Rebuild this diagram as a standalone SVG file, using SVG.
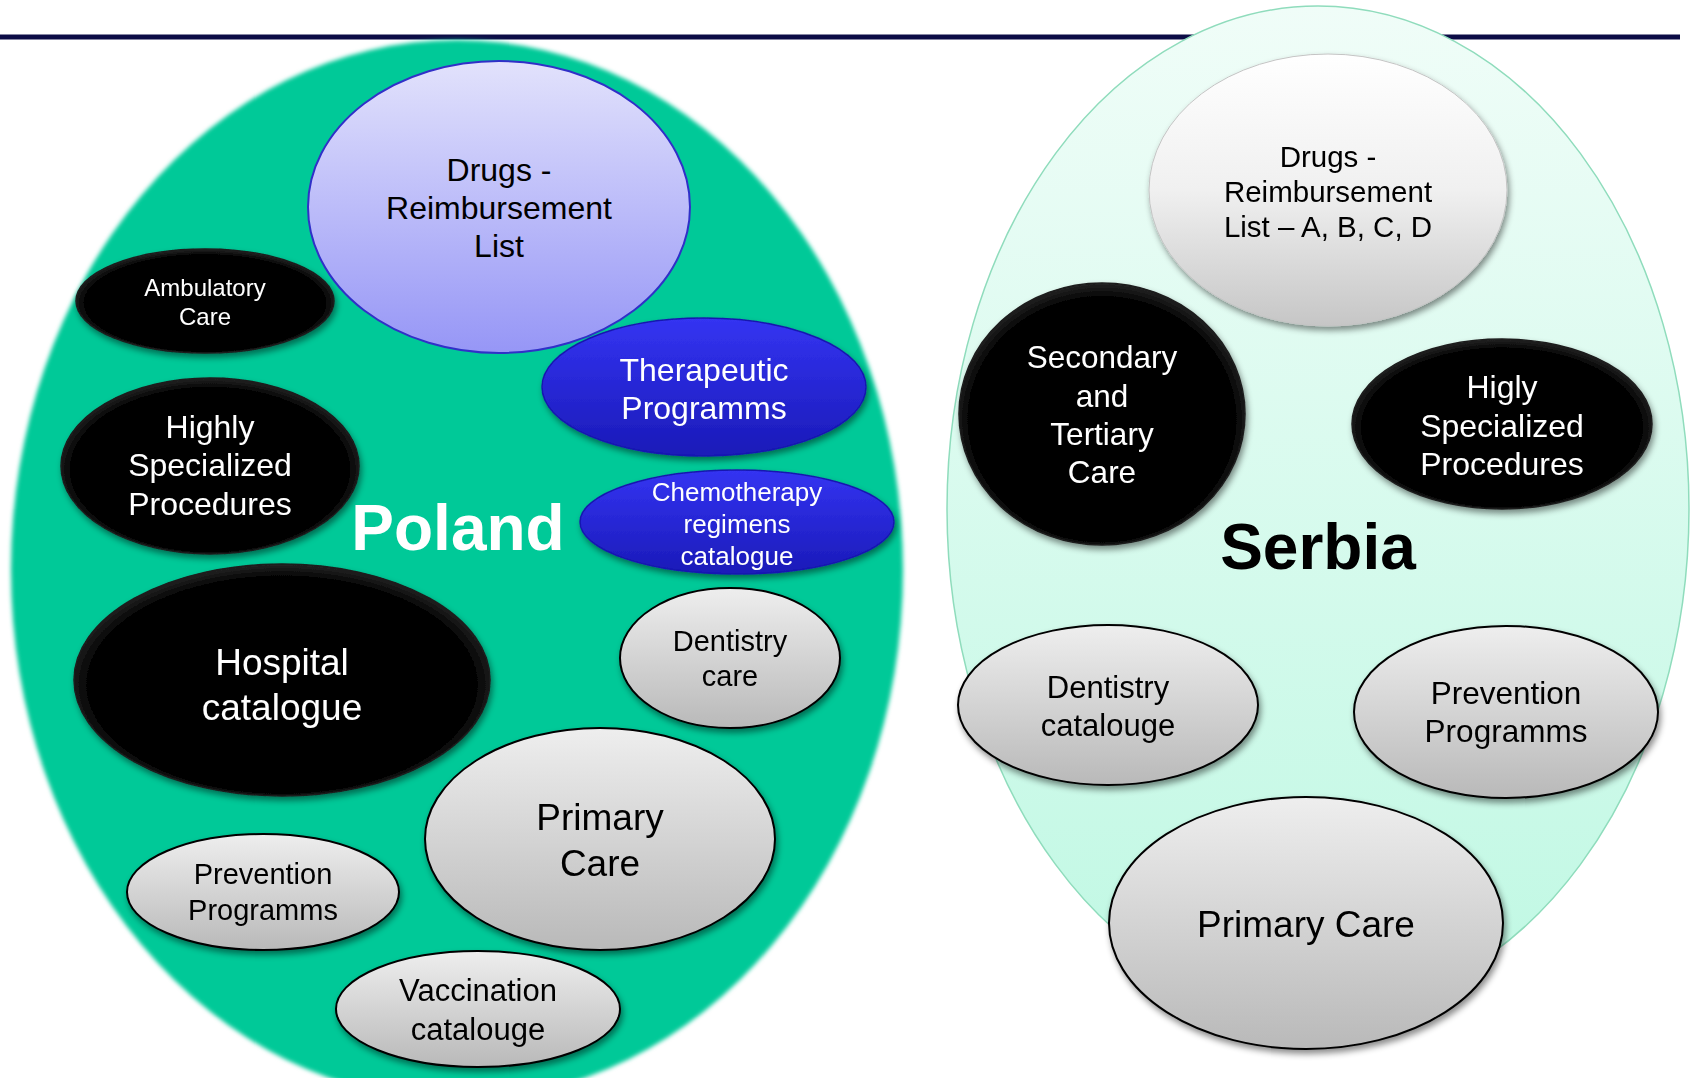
<svg xmlns="http://www.w3.org/2000/svg" width="1697" height="1078" viewBox="0 0 1697 1078">
<style>
text{font-family:"Liberation Sans",Arial,sans-serif;text-anchor:middle;dominant-baseline:central}
.w{fill:#fff}.k{fill:#000}
.gray{fill:url(#gGray);stroke:#000;stroke-width:2}
.blk{fill:url(#gBlack);stroke:#1c1c1c;stroke-width:1.5}
.blu{fill:url(#gBlue);stroke:#1818b0;stroke-width:1.5}
.sh{filter:url(#shadow)}
</style>
<defs>
<linearGradient id="gGray" x1="0" y1="0" x2="0" y2="1"><stop offset="0" stop-color="#eeeeee"/><stop offset="1" stop-color="#b9b9b9"/></linearGradient>
<linearGradient id="gWhite" x1="0" y1="0" x2="0" y2="1"><stop offset="0" stop-color="#ffffff"/><stop offset="0.5" stop-color="#f0f0f0"/><stop offset="1" stop-color="#c6c6c6"/></linearGradient>
<radialGradient id="gBlack" cx="0.5" cy="0.52" r="0.52"><stop offset="0.9" stop-color="#050505"/><stop offset="1" stop-color="#242424"/></radialGradient>
<linearGradient id="gBlue" x1="0" y1="0" x2="0" y2="1"><stop offset="0" stop-color="#3434f2"/><stop offset="1" stop-color="#1a1ab8"/></linearGradient>
<linearGradient id="gLav" x1="0" y1="0" x2="0" y2="1"><stop offset="0" stop-color="#e2e2fc"/><stop offset="1" stop-color="#9696f6"/></linearGradient>
<linearGradient id="gMint" x1="0" y1="0" x2="0" y2="1"><stop offset="0" stop-color="#f0fdf8"/><stop offset="1" stop-color="#bff8e3"/></linearGradient>
<filter id="shadow" x="-20%" y="-20%" width="140%" height="140%"><feDropShadow dx="2" dy="4" stdDeviation="3" flood-color="#000" flood-opacity="0.45"/></filter>
<filter id="soft" x="-5%" y="-5%" width="110%" height="110%"><feGaussianBlur stdDeviation="2"/></filter>
</defs>
<rect width="1697" height="1078" fill="#fff"/>
<line x1="0" y1="37" x2="1680" y2="37" stroke="#0c0c46" stroke-width="5"/>
<g id="poland-area"><ellipse cx="457" cy="570" rx="446" ry="530" fill="#00c998" filter="url(#soft)"/></g>
<g id="serbia-area"><ellipse cx="1318" cy="509" rx="371" ry="503" fill="url(#gMint)" stroke="#8fdcbc" stroke-width="1.5"/></g>
<g id="connectors"></g>
<g id="pl-drugs"><ellipse cx="499" cy="207" rx="191" ry="146" fill="url(#gLav)" stroke="#3030c8" stroke-width="2"/>
<text class="k" font-size="32"><tspan x="499" y="170">Drugs -</tspan><tspan x="499" y="208">Reimbursement</tspan><tspan x="499" y="246">List</tspan></text></g>
<g id="pl-ambulatory" class="sh"><ellipse class="blk" cx="205" cy="301" rx="129" ry="52"/>
<text class="w" font-size="24"><tspan x="205" y="287">Ambulatory</tspan><tspan x="205" y="316">Care</tspan></text></g>
<g id="pl-highly" class="sh"><ellipse class="blk" cx="210" cy="466" rx="149" ry="88"/>
<text class="w" font-size="32"><tspan x="210" y="427">Highly</tspan><tspan x="210" y="465">Specialized</tspan><tspan x="210" y="504">Procedures</tspan></text></g>
<g id="pl-therapeutic" class="sh"><ellipse class="blu" cx="704" cy="387" rx="162" ry="69"/>
<text class="w" font-size="32"><tspan x="704" y="370">Therapeutic</tspan><tspan x="704" y="408">Programms</tspan></text></g>
<g id="pl-chemo" class="sh"><ellipse class="blu" cx="737" cy="522" rx="157" ry="52"/>
<text class="w" font-size="26"><tspan x="737" y="492">Chemotherapy</tspan><tspan x="737" y="524">regimens</tspan><tspan x="737" y="556">catalogue</tspan></text></g>
<g id="pl-label"><text x="458" y="528" class="w" font-size="64" font-weight="bold">Poland</text></g>
<g id="pl-hospital" class="sh"><ellipse class="blk" cx="282" cy="680" rx="208" ry="116"/>
<text class="w" font-size="37"><tspan x="282" y="662">Hospital</tspan><tspan x="282" y="707">catalogue</tspan></text></g>
<g id="pl-dentistry" class="sh"><ellipse class="gray" cx="730" cy="658" rx="110" ry="70"/>
<text class="k" font-size="29"><tspan x="730" y="641">Dentistry</tspan><tspan x="730" y="676">care</tspan></text></g>
<g id="pl-primary" class="sh"><ellipse class="gray" cx="600" cy="839" rx="175" ry="111"/>
<text class="k" font-size="37"><tspan x="600" y="817">Primary</tspan><tspan x="600" y="863">Care</tspan></text></g>
<g id="pl-prevention" class="sh"><ellipse class="gray" cx="263" cy="892" rx="136" ry="58"/>
<text class="k" font-size="29"><tspan x="263" y="874">Prevention</tspan><tspan x="263" y="910">Programms</tspan></text></g>
<g id="pl-vaccination" class="sh"><ellipse class="gray" cx="478" cy="1009" rx="142" ry="58"/>
<text class="k" font-size="31"><tspan x="478" y="990">Vaccination</tspan><tspan x="478" y="1029">catalouge</tspan></text></g>
<g id="rs-drugs" class="sh"><ellipse cx="1328" cy="190" rx="179" ry="136" fill="url(#gWhite)" stroke="#c4c4c4" stroke-width="1"/>
<text class="k" font-size="29.5"><tspan x="1328" y="156">Drugs -</tspan><tspan x="1328" y="191">Reimbursement</tspan><tspan x="1328" y="226">List – A, B, C, D</tspan></text></g>
<g id="rs-secondary" class="sh"><ellipse class="blk" cx="1102" cy="414" rx="143" ry="131"/>
<text class="w" font-size="31.5"><tspan x="1102" y="357">Secondary</tspan><tspan x="1102" y="396">and</tspan><tspan x="1102" y="434">Tertiary</tspan><tspan x="1102" y="472">Care</tspan></text></g>
<g id="rs-higly" class="sh"><ellipse class="blk" cx="1502" cy="424" rx="150" ry="85"/>
<text class="w" font-size="32"><tspan x="1502" y="387">Higly</tspan><tspan x="1502" y="426">Specialized</tspan><tspan x="1502" y="464">Procedures</tspan></text></g>
<g id="rs-label"><text x="1318" y="547" class="k" font-size="64" font-weight="bold">Serbia</text></g>
<g id="rs-dentistry" class="sh"><ellipse class="gray" cx="1108" cy="705" rx="150" ry="80"/>
<text class="k" font-size="31"><tspan x="1108" y="687">Dentistry</tspan><tspan x="1108" y="725">catalouge</tspan></text></g>
<g id="rs-prevention" class="sh"><ellipse class="gray" cx="1506" cy="712" rx="152" ry="86"/>
<text class="k" font-size="31.5"><tspan x="1506" y="693">Prevention</tspan><tspan x="1506" y="731">Programms</tspan></text></g>
<g id="rs-primary" class="sh"><ellipse class="gray" cx="1306" cy="923" rx="197" ry="126"/>
<text class="k" font-size="37"><tspan x="1306" y="924">Primary Care</tspan></text></g>
</svg>
